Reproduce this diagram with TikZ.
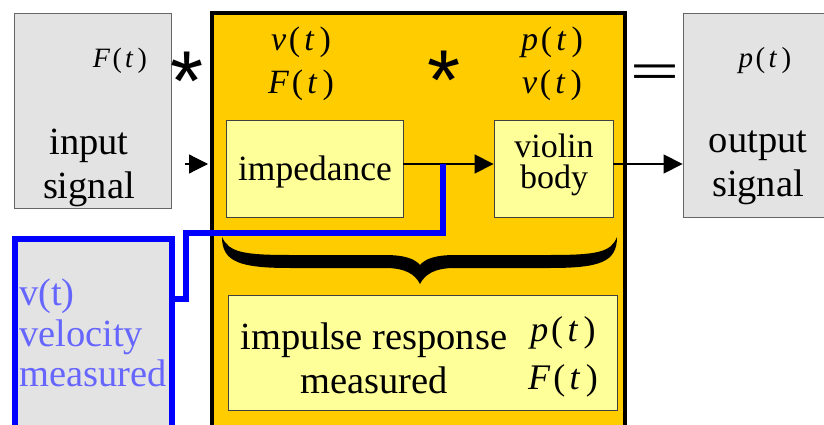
\documentclass[tikz,border=0pt]{standalone}
\usepackage{fontspec}
\usepackage{graphicx}
\setmainfont{Liberation Serif}
\newfontfamily\opfont{Liberation Sans}
\usetikzlibrary{arrows.meta}
\usetikzlibrary{calc}
\usetikzlibrary{positioning}
\definecolor{boxgray}{HTML}{E3E3E3}
\definecolor{bodyorange}{HTML}{FFCC00}
\definecolor{paleyellow}{HTML}{FFFF99}
\definecolor{wireblue}{HTML}{0000FF}
\definecolor{textblue}{HTML}{6666FF}
\newcommand{\fnt}[1]{\textit{#1}\kern.08em(\kern.12em\textit{t}\kern.15em)}

\begin{document}
\begin{tikzpicture}[x=1pt, y=-1pt,
    graybox/.style={draw=black!60, line width=0.8pt, fill=boxgray, inner sep=0pt},
    paleblock/.style={draw=black!75, line width=0.8pt, fill=paleyellow, inner sep=0pt},
    sigarrow/.style={line width=1.2pt, -{Triangle[length=19pt,width=19pt]}},
    bigtext/.style={font=\fontsize{38.5}{44}\selectfont, align=center, inner sep=0pt},
    midtext/.style={font=\fontsize{34}{31}\selectfont, align=center, inner sep=0pt},
    eqtext/.style={font=\fontsize{34}{43}\selectfont, align=center, inner sep=0pt},
    optext/.style={font=\opfont\fontsize{85}{85}\selectfont, inner sep=0pt, anchor=base}]
  % Fix the frame
  \clip (0,0) rectangle (824,425);
  % Draw the boxes
  \node[graybox, minimum width=157, minimum height=195] (input) at (92.5,110.5) {};
  \node[draw=black, line width=4pt, fill=bodyorange, inner sep=0pt,
        minimum width=413, minimum height=427] (body) at (418.5,226.5) {};
  \node[paleblock, minimum width=177, minimum height=97] (imped) at (314.5,168.5) {};
  \node[paleblock, minimum width=119, minimum height=97] (violin) at (553.5,168.5) {};
  \node[paleblock, minimum width=389, minimum height=115] (impulse) at (422.5,352.5) {};
  \node[graybox, minimum width=157, minimum height=204] (output) at (761.5,115) {};
  \node[draw=wireblue, line width=6pt, fill=boxgray, inner sep=0pt,
        minimum width=157, minimum height=206] (velo) at (93.5,342) {};
  % Signal line and probe points
  \coordinate (sig) at (0,164);
  \coordinate (start) at (185,164);
  \coordinate (tap) at (443,164);
  \coordinate (bend) at (186,233);
  \coordinate (probe) at (172,299);
  % Add the arrows
  \draw[sigarrow, shorten >=2pt] (start) -- (body.west |- sig);
  \draw[sigarrow] (imped.east |- sig) -- (violin.west |- sig);
  \draw[sigarrow] (violin.east |- sig) -- (output.west |- sig);
  % Blue measuring wire
  \draw[wireblue, line width=6pt] (tap) |- (bend) |- (probe);
  % Brace under the two blocks
  \fill (222,237) .. controls (222,262) and (240,268) .. (290,268) -- (385,268)
    .. controls (405,268) and (415,274) .. (420,284)
    .. controls (425,274) and (435,268) .. (455,268) -- (550,268)
    .. controls (600,268) and (617,262) .. (617,237)
    .. controls (611,252) and (598,255) .. (550,255) -- (455,255)
    .. controls (435,255) and (425,259) .. (420,265)
    .. controls (415,259) and (405,255) .. (385,255) -- (290,255)
    .. controls (242,255) and (229,252) .. (222,237) -- cycle;
  % Add the texts
  \node[font=\fontsize{28}{30}\selectfont, inner sep=0pt] (inF) at (120,61) {\fnt{F}};
  \node[bigtext] (inlabel) at (89,168) {input\\signal};
  \node[eqtext] (zlabel) at (301,64) {\fnt{v}\\\fnt{F}};
  \node[eqtext] (hlabel) at (552,64) {\fnt{p}\\\fnt{v}};
  \node[font=\fontsize{35.5}{31}\selectfont, inner sep=0pt] (imptxt) at (315,172) {impedance};
  \node[midtext] (viotxt) at (554,165) {violin\\body};
  \node[font=\fontsize{29}{30}\selectfont, inner sep=0pt] (outp) at (765,61) {\fnt{p}};
  \node[bigtext] (outlabel) at (758,168) {output\\signal};
  \node[bigtext] (irtxt) at (374,358) {impulse response\\measured};
  \node[font=\fontsize{36}{48}\selectfont, align=center, inner sep=0pt] (irlabel) at (563,357) {\fnt{p}\\\fnt{F}};
  \node[bigtext, align=left, anchor=west, font=\fontsize{38.5}{40.5}\selectfont, text=textblue] (velotxt) at (19,333) {v(t)\\velocity\\measured};
  % Operators
  \node[optext] (star1) at (187,111) {*};
  \node[optext] (star2) at (444,110) {*};
  \node[font=\opfont\fontsize{84}{84}\selectfont, inner sep=0pt, anchor=base] (eq) at (655,86) {\scalebox{1}[0.5]{=}};
\end{tikzpicture}
\end{document}
